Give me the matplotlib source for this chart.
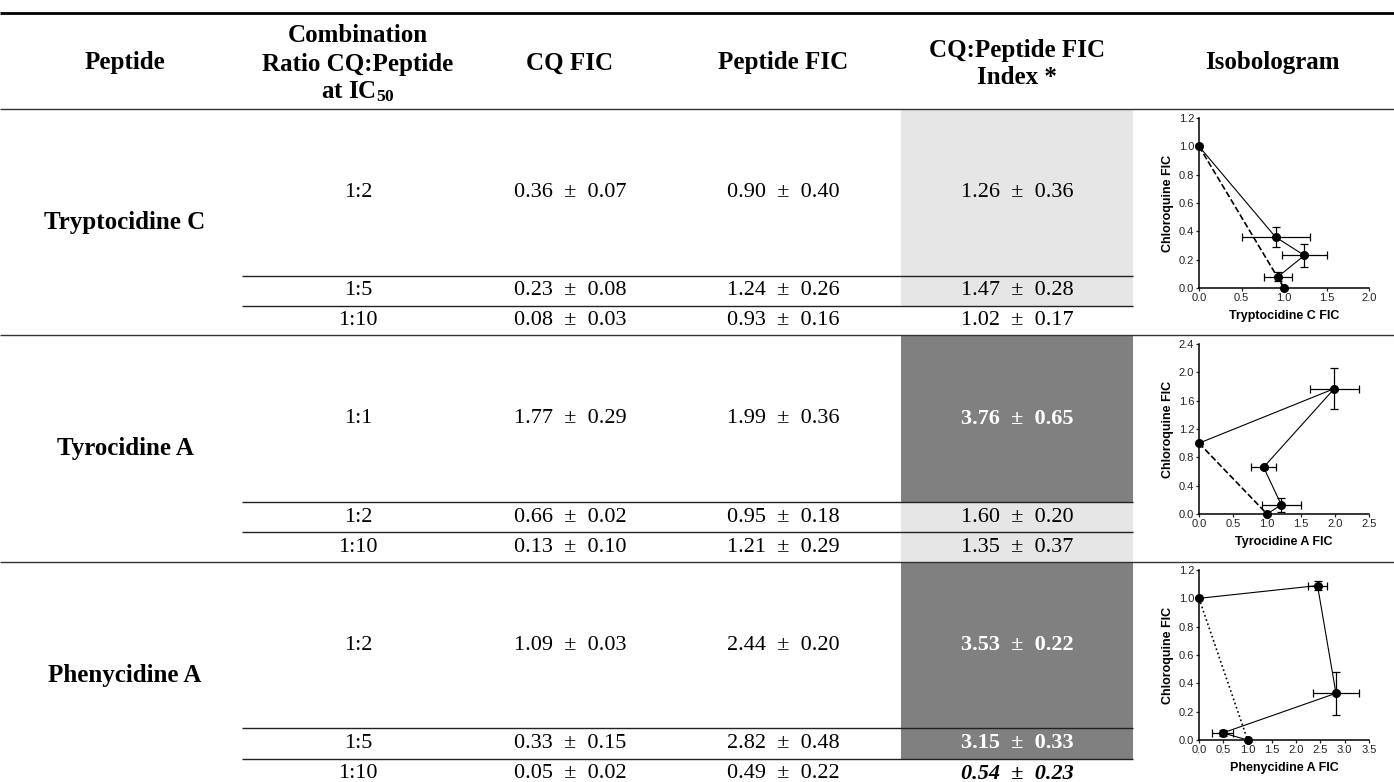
import numpy as np
import matplotlib
matplotlib.use("Agg")
import matplotlib.pyplot as plt
from matplotlib.patches import Rectangle

# table contents
peptides = ["Tryptocidine C", "Tyrocidine A", "Phenycidine A"]
ratios = [["1:2", "1:5", "1:10"],
          ["1:1", "1:2", "1:10"],
          ["1:2", "1:5", "1:10"]]
cq_fic = [[0.36, 0.23, 0.08], [1.77, 0.66, 0.13], [1.09, 0.33, 0.05]]
cq_sd = [[0.07, 0.08, 0.03], [0.29, 0.02, 0.10], [0.03, 0.15, 0.02]]
pep_fic = [[0.90, 1.24, 0.93], [1.99, 0.95, 1.21], [2.44, 2.82, 0.49]]
pep_sd = [[0.40, 0.26, 0.16], [0.36, 0.18, 0.29], [0.20, 0.48, 0.22]]
fic_index = [[1.26, 1.47, 1.02], [3.76, 1.60, 1.35], [3.53, 3.15, 0.54]]
fic_sd = [[0.36, 0.28, 0.17], [0.65, 0.20, 0.37], [0.22, 0.33, 0.23]]
# shading of the FIC index cells
cell_style = [["light", "light", "plain"],
              ["dark", "light", "light"],
              ["dark", "dark", "synergy"]]

# isobologram axes
iso_xmax = [2.0, 2.5, 3.5]
iso_ymax = [1.2, 2.4, 1.2]
iso_ystep = [0.2, 0.4, 0.2]
iso_additive_style = ["--", "--", ":"]

plt.rcParams["mathtext.fontset"] = "custom"
plt.rcParams["mathtext.rm"] = "Liberation Serif"
plt.rcParams["mathtext.bf"] = "Liberation Serif:bold"
plt.rcParams["mathtext.it"] = "Liberation Serif:italic"

W, H = 1394, 782
fig = plt.figure(figsize=(W / 100, H / 100), dpi=100)
fig.patch.set_facecolor("white")

# background axes in pixel units for the table
tab = fig.add_axes([0, 0, 1, 1])
tab.set_xlim(0, W)
tab.set_ylim(H, 0)
tab.axis("off")

serif = "Liberation Serif"
col_x = [125, 358, 570, 783, 1017, 1272]
idx_left, idx_right = 901, 1133
sub_left = 242
row_edges = [[109, 275.5, 306, 335],
             [335, 502, 532, 562],
             [562, 728, 758.5, 789]]

hdr = dict(ha="center", va="center", fontsize=18, fontweight="bold", family=serif)
tab.text(col_x[0], 63, "Peptide", **hdr)
tab.text(col_x[1], 36, "Combination", **hdr)
tab.text(col_x[1], 64, "Ratio CQ:Peptide", **hdr)
tab.text(col_x[1], 92, r"at IC$_\mathbf{50}$", **hdr)
tab.text(col_x[2], 63, "CQ FIC", **hdr)
tab.text(col_x[3], 63, "Peptide FIC", **hdr)
tab.text(col_x[4], 50, "CQ:Peptide FIC", **hdr)
tab.text(col_x[4], 78, "Index *", **hdr)
tab.text(col_x[5], 63, "Isobologram", **hdr)

tab.hlines(13, 0, W, color="black", lw=2.0)
tab.hlines(109, 0, W, color="#333333", lw=1.0)

fills = {"light": "#e6e6e6", "dark": "#808080"}

for g in range(3):
    edges = row_edges[g]
    for r in range(3):
        top, bot = edges[r], edges[r + 1]
        yc = (top + bot) / 2
        style = cell_style[g][r]
        if style in fills:
            tab.add_patch(Rectangle((idx_left, top), idx_right - idx_left, bot - top,
                                    facecolor=fills[style], edgecolor="none", zorder=0))
        body = dict(ha="center", va="center", fontsize=16, family=serif)
        tab.text(col_x[1], yc, ratios[g][r], **body)
        tab.text(col_x[2], yc, f"{cq_fic[g][r]:.2f}  ±  {cq_sd[g][r]:.2f}", **body)
        tab.text(col_x[3], yc, f"{pep_fic[g][r]:.2f}  ±  {pep_sd[g][r]:.2f}", **body)
        label = f"{fic_index[g][r]:.2f}  ±  {fic_sd[g][r]:.2f}"
        if style == "dark":
            tab.text(col_x[4], yc, label, color="white", fontweight="bold", **body)
        elif style == "synergy":
            tab.text(col_x[4], yc, label, fontweight="bold", style="italic", **body)
        else:
            tab.text(col_x[4], yc, label, **body)
    tab.text(col_x[0], (edges[0] + edges[3]) / 2, peptides[g], ha="center", va="center",
             fontsize=18, fontweight="bold", family=serif)
    tab.hlines(edges[1:3], sub_left, idx_right, color="#222222", lw=1.0, zorder=2)
    if g < 2:
        tab.hlines(edges[3], 0, W, color="#333333", lw=1.0)

# isobolograms
sans = "Liberation Sans"
iso_tops = [118, 344, 570]
for g in range(3):
    y0 = iso_tops[g]
    ax = fig.add_axes([1199 / W, 1 - (y0 + 170) / H, 170 / W, 170 / H])
    ax.patch.set_alpha(0)
    px = np.array([0.0] + pep_fic[g] + [1.0])
    py = np.array([1.0] + cq_fic[g] + [0.0])
    ax.plot([0, 1], [1, 0], color="black", lw=1.2, ls=iso_additive_style[g], clip_on=False)
    ax.plot(px, py, color="black", lw=0.8, clip_on=False)
    ax.errorbar(pep_fic[g], cq_fic[g], xerr=pep_sd[g], yerr=cq_sd[g], fmt="none",
                ecolor="black", elinewidth=0.9, capsize=3, capthick=0.9, clip_on=False)
    ax.plot(px, py, "o", color="black", ms=5.5, clip_on=False, zorder=5)
    ax.set_xlim(0, iso_xmax[g])
    ax.set_ylim(0, iso_ymax[g])
    ax.set_xticks(np.arange(0, iso_xmax[g] + 0.01, 0.5))
    ax.set_yticks(np.arange(0, iso_ymax[g] + 0.01, iso_ystep[g]))
    ax.xaxis.set_major_formatter(matplotlib.ticker.FormatStrFormatter("%.1f"))
    ax.yaxis.set_major_formatter(matplotlib.ticker.FormatStrFormatter("%.1f"))
    for s in ["top", "right"]:
        ax.spines[s].set_visible(False)
    for s in ["left", "bottom"]:
        ax.spines[s].set_linewidth(1.1)
    ax.tick_params(length=2.5, width=0.9, pad=1, labelsize=8, colors="#222222")
    for lab in ax.get_xticklabels() + ax.get_yticklabels():
        lab.set_family(sans)
    ax.set_xlabel(peptides[g] + " FIC", family=sans, fontweight="bold", fontsize=9, labelpad=5)
    ax.set_ylabel("Chloroquine FIC", family=sans, fontweight="bold", fontsize=9, labelpad=3)

plt.savefig("out.png", dpi=100)
